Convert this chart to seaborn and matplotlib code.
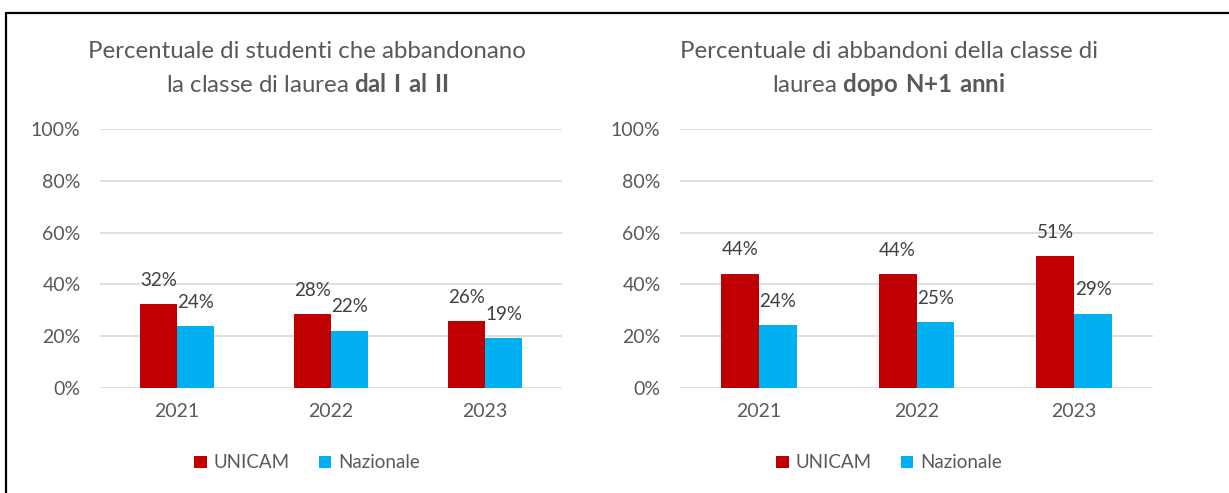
import numpy as np
import pandas as pd
import matplotlib
matplotlib.use("Agg")
import matplotlib.pyplot as plt
from matplotlib.lines import Line2D
import seaborn as sns

# Data
anni = ["2021", "2022", "2023"]
serie = ["UNICAM", "Nazionale"]
unicam_1 = [0.324, 0.284, 0.258]
naz_1 = [0.238, 0.222, 0.192]
unicam_2 = [0.442, 0.440, 0.510]
naz_2 = [0.244, 0.254, 0.287]
y_ticks = [0, 0.2, 0.4, 0.6, 0.8, 1.0]
y_labels = ["0%", "20%", "40%", "60%", "80%", "100%"]

sns.set_theme(style="white")
plt.rcParams['font.family'] = ['Lato', 'DejaVu Sans']
plt.rcParams['mathtext.fontset'] = 'custom'
plt.rcParams['mathtext.rm'] = 'Lato'
plt.rcParams['mathtext.bf'] = 'Lato:bold'

RED = "#C00000"
BLUE = "#00B0F0"
GREY_TXT = "#595959"
GRID = "#D9D9D9"

W, H = 1229, 493
fig = plt.figure(figsize=(W / 100, H / 100), dpi=100)


def make_df(u, n):
    return pd.DataFrame({
        "anno": anni * 2,
        "serie": [serie[0]] * 3 + [serie[1]] * 3,
        "valore": u + n,
    })


def draw_panel(ax, df, cx, line1, line2):
    sns.barplot(data=df, x="anno", y="valore", hue="serie", ax=ax,
                palette=[RED, BLUE], width=0.48, linewidth=0, saturation=1,
                errorbar=None)
    ax.set_ylim(0, 1)
    ax.set_xlim(-0.5, 2.5)
    ax.set_yticks(y_ticks)
    ax.set_yticklabels(y_labels)
    ax.set_xlabel("")
    ax.set_ylabel("")
    for yv in y_ticks:
        ax.axhline(yv, color=GRID, lw=1.2, zorder=0)
    for s in ax.spines.values():
        s.set_visible(False)
    ax.tick_params(axis="y", length=0, pad=14, labelsize=14, labelcolor=GREY_TXT)
    ax.tick_params(axis="x", length=0, pad=11, labelsize=14, labelcolor=GREY_TXT)
    for cont in ax.containers:
        ax.bar_label(cont, labels=[f"{v * 100:.0f}%" for v in cont.datavalues],
                     padding=11, fontsize=13.5, color="#404040")
    handles, labels = ax.get_legend_handles_labels()
    ax.legend(handles, labels, loc="center", bbox_to_anchor=(cx / W, 1 - 463 / H),
              bbox_transform=fig.transFigure, ncol=2, frameon=False,
              handlelength=0.65, handleheight=0.65, handletextpad=0.35,
              columnspacing=1.6, fontsize=13.5, labelcolor=GREY_TXT)
    fig.text(cx / W, 1 - 52 / H, line1, ha="center", va="center",
             fontsize=17.3, color=GREY_TXT)
    fig.text(cx / W, 1 - 84 / H, line2, ha="center", va="center",
             fontsize=17.3, color=GREY_TXT)


ax1 = fig.add_axes([100 / W, 1 - 388 / H, 462 / W, 259 / H])
ax2 = fig.add_axes([680 / W, 1 - 388 / H, 473 / W, 259 / H])

draw_panel(ax1, make_df(unicam_1, naz_1), 307,
           "Percentuale di studenti che abbandonano",
           r"la classe di laurea $\mathbf{dal\ I\ al\ II}$")
draw_panel(ax2, make_df(unicam_2, naz_2), 889,
           "Percentuale di abbandoni della classe di",
           r"laurea $\mathbf{dopo\ N{+}1\ anni}$")

# outer frame (top and left only, as in the source crop)
fig.add_artist(Line2D([6 / W, 1], [1 - 12.5 / H, 1 - 12.5 / H], color="black", lw=1.6))
fig.add_artist(Line2D([6.5 / W, 6.5 / W], [0, 1 - 12.5 / H], color="black", lw=1.6))

fig.savefig("out.png", dpi=100)
